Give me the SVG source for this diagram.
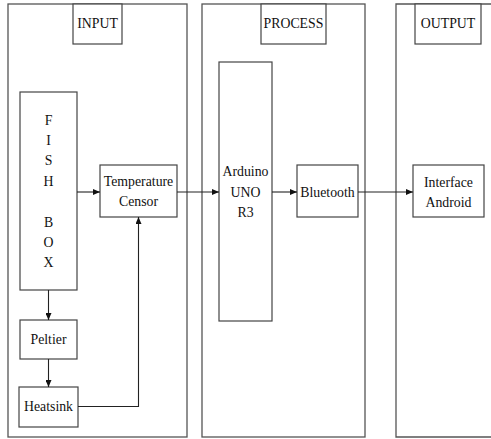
<svg xmlns="http://www.w3.org/2000/svg" width="491" height="439" viewBox="0 0 491 439">
<style>
.panel{fill:#fff;stroke:#555;stroke-width:1.3}
.box{fill:#fff;stroke:#444;stroke-width:1.2}
.t{font-family:"Liberation Serif","Times New Roman",serif;font-size:13.8px;fill:#111;text-anchor:middle}
.c{fill:none;stroke:#222;stroke-width:1.1}
</style>
<defs>
<marker id="ah" markerWidth="7" markerHeight="6" refX="7" refY="3" orient="auto" markerUnits="userSpaceOnUse">
<path d="M0,0 L7,3 L0,6 Z" fill="#111"/>
</marker>
</defs>
<rect width="491" height="439" fill="#fff"/>
<g id="panel-input">
<rect class="panel" x="8" y="4" width="179" height="433"/>
<rect class="box" x="73" y="4" width="49" height="40"/>
<text class="t" x="97.5" y="28">INPUT</text>
</g>
<g id="panel-process">
<rect class="panel" x="202" y="4" width="163" height="433"/>
<rect class="box" x="261" y="4" width="65" height="40"/>
<text class="t" x="293.5" y="28">PROCESS</text>
</g>
<g id="panel-output">
<path class="panel" d="M494,4 H396 V437 H494"/>
<rect class="box" x="415" y="4" width="66" height="40"/>
<text class="t" x="448" y="28">OUTPUT</text>
</g>
<g id="fish-box">
<rect class="box" x="20" y="92" width="57" height="198"/>
<text class="t" x="48.5" y="124.5">F</text>
<text class="t" x="48.5" y="144.5">I</text>
<text class="t" x="48.5" y="165">S</text>
<text class="t" x="48.5" y="185.5">H</text>
<text class="t" x="48.5" y="226.5">B</text>
<text class="t" x="48.5" y="246.5">O</text>
<text class="t" x="48.5" y="267">X</text>
</g>
<g id="temperature-censor">
<rect class="box" x="100" y="165" width="77" height="52"/>
<text class="t" x="138.5" y="186">Temperature</text>
<text class="t" x="138.5" y="206">Censor</text>
</g>
<g id="peltier">
<rect class="box" x="20" y="320" width="57" height="39"/>
<text class="t" x="48.5" y="344">Peltier</text>
</g>
<g id="heatsink">
<rect class="box" x="19" y="387" width="59" height="40"/>
<text class="t" x="48.5" y="411">Heatsink</text>
</g>
<g id="arduino">
<rect class="box" x="219" y="62" width="53" height="259"/>
<text class="t" x="245.5" y="176">Arduino</text>
<text class="t" x="245.5" y="196.5">UNO</text>
<text class="t" x="245.5" y="217">R3</text>
</g>
<g id="bluetooth">
<rect class="box" x="297" y="165" width="61" height="52"/>
<text class="t" x="327.5" y="196.5">Bluetooth</text>
</g>
<g id="interface-android">
<rect class="box" x="413" y="165" width="71" height="52"/>
<text class="t" x="448.5" y="187">Interface</text>
<text class="t" x="448.5" y="207">Android</text>
</g>
<g id="connectors">
<line class="c" x1="77" y1="192" x2="100" y2="192" marker-end="url(#ah)"/>
<line class="c" x1="177" y1="192" x2="219" y2="192" marker-end="url(#ah)"/>
<line class="c" x1="272" y1="192" x2="297" y2="192" marker-end="url(#ah)"/>
<line class="c" x1="358" y1="192" x2="413" y2="192" marker-end="url(#ah)"/>
<line class="c" x1="48.5" y1="290" x2="48.5" y2="320" marker-end="url(#ah)"/>
<line class="c" x1="48.5" y1="359" x2="48.5" y2="387" marker-end="url(#ah)"/>
<polyline class="c" points="78,406.5 138.5,406.5 138.5,217" marker-end="url(#ah)"/>
</g>
</svg>
